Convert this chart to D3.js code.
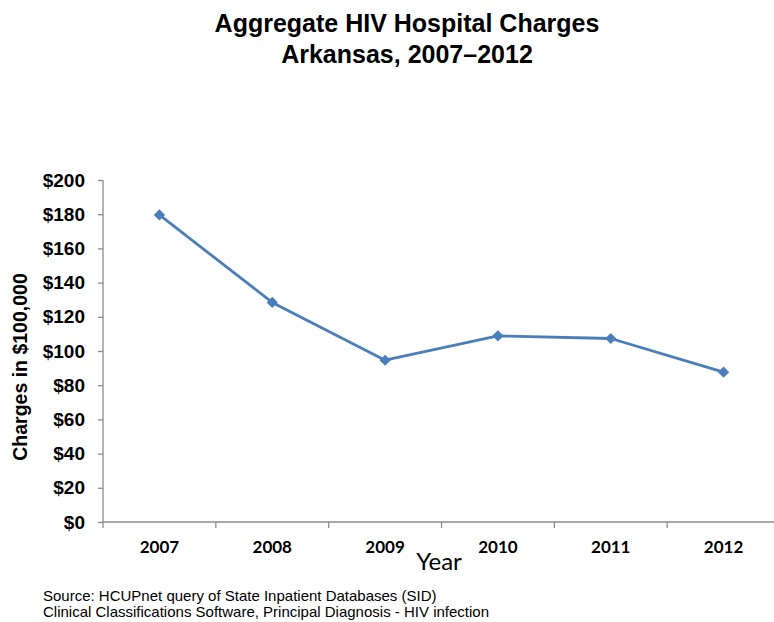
<!DOCTYPE html>
<html>
<head>
<meta charset="utf-8">
<script src="https://cdn.jsdelivr.net/npm/d3@7"></script>
<style>
  html, body { margin: 0; padding: 0; background: #fff; }
  svg { display: block; }
</style>
</head>
<body>
<script>
// Aggregate HIV hospital charges, Arkansas, in units of $100,000
const years = ["2007", "2008", "2009", "2010", "2011", "2012"];
const charges = [179.6, 128.4, 94.6, 108.9, 107.3, 87.6];
const yTicks = [0, 20, 40, 60, 80, 100, 120, 140, 160, 180, 200];

const W = 774, H = 622;
const svg = d3.select("body").append("svg").attr("width", W).attr("height", H);

const plotL = 103, plotR = 780, plotT = 180, plotB = 522;

const x = d3.scaleBand().domain(years).range([plotL, plotR]);
const y = d3.scaleLinear().domain([0, 200]).range([plotB, plotT]);

const axisColor = "#8c8c8c";
const arial = "Liberation Sans, Arial, sans-serif";
const calibri = "Lato, Carlito, sans-serif";

// Title
const title = svg.append("text")
  .attr("text-anchor", "middle")
  .style("font-family", arial)
  .style("font-weight", "bold").style("font-size", "25px").attr("fill", "#000");
title.append("tspan").attr("x", 407).attr("y", 32).text("Aggregate HIV Hospital Charges");
title.append("tspan").attr("x", 407).attr("y", 63).text("Arkansas, 2007\u20132012");

// Y axis
const yAxis = svg.append("g").attr("transform", `translate(${plotL},0)`)
  .call(d3.axisLeft(y).tickValues(yTicks).tickSize(5).tickPadding(13)
    .tickFormat(d => "$" + d));
yAxis.select(".domain").attr("stroke", axisColor).attr("stroke-width", 1.3)
  .attr("d", `M0,${plotT}V${plotB + 6}`);
yAxis.selectAll(".tick line").attr("stroke", axisColor).attr("stroke-width", 1.3);
yAxis.selectAll(".tick text")
  .style("font-family", arial)
  .style("font-weight", "bold").style("font-size", "19px").attr("fill", "#000");

// X axis with tick marks at category boundaries
const xg = svg.append("g").attr("transform", `translate(0,${plotB})`);
xg.append("line").attr("x1", plotL).attr("x2", plotR).attr("y1", 0).attr("y2", 0)
  .attr("stroke", axisColor).attr("stroke-width", 1.3);
xg.selectAll("line.bt").data(years.slice(1)).join("line").attr("class", "bt")
  .attr("x1", d => x(d)).attr("x2", d => x(d)).attr("y1", 0).attr("y2", 6)
  .attr("stroke", axisColor).attr("stroke-width", 1.3);
xg.selectAll("text").data(years).join("text")
  .attr("x", d => x(d) + x.bandwidth() / 2).attr("y", 31)
  .attr("text-anchor", "middle")
  .style("font-family", calibri)
  .style("font-weight", "bold").style("font-size", "17px").attr("fill", "#000")
  .text(d => d);

// Axis titles
svg.append("text").attr("x", 439).attr("y", 570).attr("text-anchor", "middle")
  .style("font-family", calibri)
  .style("font-size", "24px").attr("fill", "#000").text("Year");

svg.append("text")
  .attr("transform", "translate(27,367) rotate(-90)")
  .attr("text-anchor", "middle")
  .style("font-family", arial)
  .style("font-weight", "bold").style("font-size", "19.5px").attr("fill", "#000")
  .text("Charges in $100,000");

// Series line and diamond markers
const cx = d => x(d) + x.bandwidth() / 2;
const lineColor = "#4a7ebb";
const data = years.map((yr, i) => ({ yr, v: charges[i] }));

svg.append("path").datum(data)
  .attr("fill", "none").attr("stroke", lineColor).attr("stroke-width", 2.8)
  .attr("stroke-linejoin", "round")
  .attr("d", d3.line().x(d => cx(d.yr)).y(d => y(d.v)));

svg.selectAll("path.mk").data(data).join("path").attr("class", "mk")
  .attr("transform", d => `translate(${cx(d.yr)},${y(d.v)})`)
  .attr("d", d3.symbol().type(d3.symbolDiamond2).size(80))
  .attr("fill", lineColor);

// Source note
const note = svg.append("text")
  .style("font-family", arial)
  .style("font-size", "15px").attr("fill", "#000");
note.append("tspan").attr("x", 43).attr("y", 601)
  .text("Source: HCUPnet query of State Inpatient Databases (SID)");
note.append("tspan").attr("x", 43).attr("y", 617)
  .text("Clinical Classifications Software, Principal Diagnosis - HIV infection");
</script>
</body>
</html>
